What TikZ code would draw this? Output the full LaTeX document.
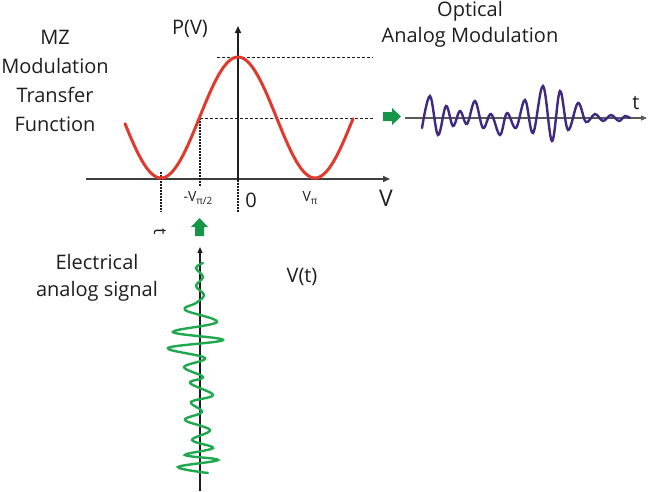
\documentclass[tikz,border=0pt]{standalone}
\usepackage{fontspec}
\setmainfont{Open Sans}
\usetikzlibrary{arrows.meta}
\definecolor{curvered}{RGB}{224,58,46}
\definecolor{wavepurple}{RGB}{62,42,128}
\definecolor{wavegreen}{RGB}{32,168,78}
\definecolor{arrowgreen}{RGB}{22,150,70}
\definecolor{txt}{RGB}{30,30,30}
\definecolor{axgray}{RGB}{90,90,90}
\tikzset{
  lbl/.style={text=txt, inner sep=0pt, font=\fontsize{20}{28}\selectfont, align=center},
  small/.style={text=txt, inner sep=0pt, font=\fontsize{14}{14}\selectfont},
  axis/.style={line width=1.6pt, draw=txt, -{Triangle[length=7pt,width=6pt]}},
  thinaxis/.style={line width=1.1pt, draw=txt, -{Triangle[length=6pt,width=5pt]}},
  guide/.style={line width=0.9pt, draw=txt, dash pattern=on 3pt off 2pt},
  dots/.style={line width=1.2pt, draw=txt, dash pattern=on 1.5pt off 1.5pt},
  blockarrow/.style={fill=arrowgreen, draw=none}
}
\begin{document}
\begin{tikzpicture}[x=1pt,y=-1pt]
\useasboundingbox (0,0) rectangle (649,491);
% ---- MZ transfer function axes
\coordinate (hx0) at (86,179);
\coordinate (hx1) at (390,179);
\coordinate (vy0) at (238,180);
\coordinate (vy1) at (238,26);
\draw[axis, draw=axgray!70!black] (hx0) -- (hx1);
\draw[axis] (vy0) -- (vy1);
% dashed guides
\coordinate (top0) at (217,57);
\coordinate (top1) at (373,57);
\coordinate (mid0) at (200,118);
\coordinate (mid1) at (373,118);
\draw[guide] (top0) -- (top1);
\draw[guide] (mid0) -- (mid1);
% dotted verticals
\coordinate (d1a) at (161,172);
\coordinate (d1b) at (161,212);
\coordinate (d2a) at (200,118);
\coordinate (d2b) at (200,186);
\coordinate (d3a) at (238,180);
\coordinate (d3b) at (238,212);
\draw[dots] (d1a) -- (d1b);
\draw[dots] (d2a) -- (d2b);
\draw[dots] (d3a) -- (d3b);
% red transfer curve
\draw[curvered, line width=3pt, line cap=round, smooth, samples=120, domain=125:353]
  plot (\x, {178 - 60.5*(1+cos((\x-238)/77*180))});
% labels
\node[lbl] (mz) at (55,81) {MZ\\[1pt]Modulation\\[1pt]Transfer\\[1pt]Function};
\node[lbl] (pv) at (190,29) {P(V)};
\node[lbl, font=\fontsize{20}{26}\selectfont] (opt) at (470,24) {Optical\\Analog Modulation};
\node[lbl, font=\fontsize{20}{27}\selectfont] (elec) at (97,278) {Electrical\\analog signal};
\node[lbl] (vt) at (302,277) {V(t)};
\node[small] (mvpi) at (198,198) {-V\raisebox{-2.5pt}{\fontsize{10}{10}\selectfont π/2}};
\node[lbl] (zero) at (251,200) {0};
\node[small] (vpi) at (310,198) {V\raisebox{-2.5pt}{\fontsize{10}{10}\selectfont π}};
\node[lbl, font=\fontsize{23}{23}\selectfont] (vlab) at (386,198) {V};
\node[lbl, font=\fontsize{18}{18}\selectfont, rotate=-90] (tlab) at (160,232) {t};
\node[lbl] (tlab2) at (636,103) {t};
% green block arrows
\fill[blockarrow] (199.5,218) -- (208,227) -- (204,227) -- (204,236) -- (195,236) -- (195,227) -- (191,227) -- cycle;
\fill[blockarrow] (401,116.5) -- (392,108) -- (392,112) -- (383,112) -- (383,121) -- (392,121) -- (392,125) -- cycle;
% optical output axis and wave
\coordinate (ox0) at (405,118);
\coordinate (ox1) at (647,118);
\draw[thinaxis, draw=axgray] (ox0) -- (ox1);
\draw[wavepurple, line width=2.4pt, line cap=round, smooth, tension=0.6] plot coordinates {
 (422,128) (430,96) (438,135) (446,106) (453,126) (460,111) (467,124) (475,101)
 (483,128) (491,114) (500,135) (507,113) (516,128) (525,100) (533,133) (543,86)
 (552,141) (560,91) (568,130) (578,103) (586,122) (595,114) (603,121) (611,115)
 (619,121) (625,116) (630,118)};
% electrical input axis and wave
\coordinate (ex0) at (200,491);
\coordinate (ex1) at (200,247);
\draw[thinaxis] (ex0) -- (ex1);
\draw[wavegreen, line width=2.4pt, line cap=round, smooth, tension=0.6] plot coordinates {
 (203,263) (196,268) (203,277) (196,286) (204,295) (196,303) (185,310) (217,322)
 (173,332) (223,340) (168,348) (205,358) (184,367) (203,377) (190,383) (213,395)
 (191,402) (202,412) (185,420) (210,430) (192,440) (213,448) (185,455) (218,460)
 (178,467) (208,473)};
\end{tikzpicture}
\end{document}
